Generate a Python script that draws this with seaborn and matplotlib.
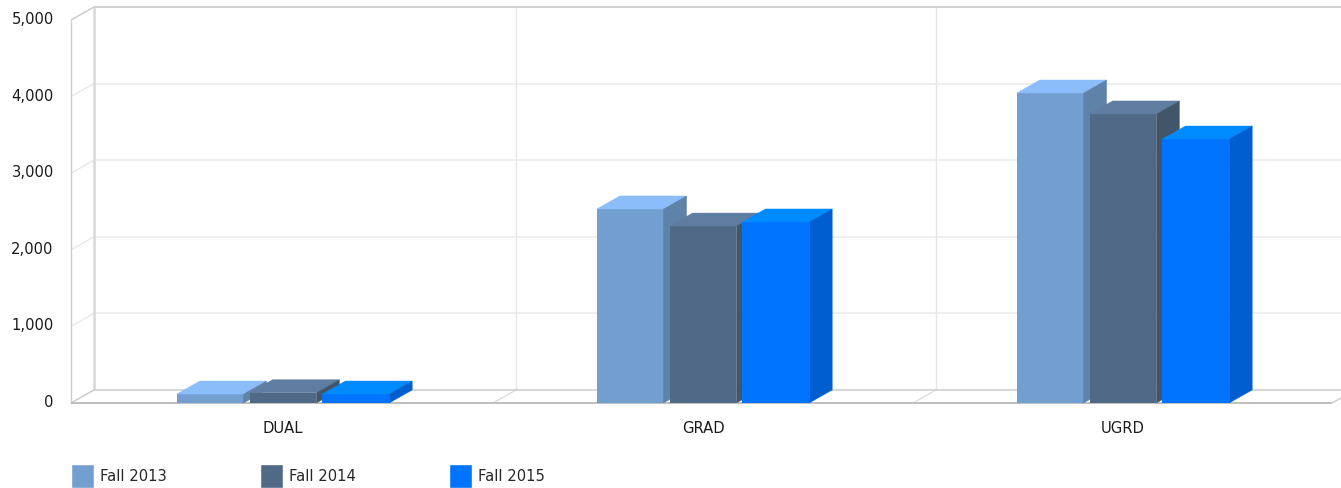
import pandas as pd
import seaborn as sns
import matplotlib.pyplot as plt
from matplotlib.patches import Polygon
from matplotlib.transforms import ScaledTranslation

categories = ['DUAL', 'GRAD', 'UGRD']
terms = ['Fall 2013', 'Fall 2014', 'Fall 2015']
fall_2013 = [117, 2533, 4047]
fall_2014 = [134, 2310, 3773]
fall_2015 = [117, 2363, 3446]
y_ticks = [0, 1000, 2000, 3000, 4000, 5000]

front_colors = ['#739fd0', '#506987', '#0073ff']
top_colors = ['#8abdfa', '#5f7da0', '#008aff']
side_colors = ['#5f82a8', '#415669', '#005ecf']

# size of the fake 3d depth, in data units
DX = 23 / 420
DY = 170

df = pd.DataFrame({
    'category': categories * 3,
    'term': [t for t in terms for _ in categories],
    'value': fall_2013 + fall_2014 + fall_2015,
})

sns.set_style('white')
plt.rcParams['font.family'] = ['DejaVu Sans']

W, H = 1341, 488
fig = plt.figure(figsize=(W / 100, H / 100), dpi=100)
ax = fig.add_axes([71 / W, 1 - 403 / H, 1261 / W, 383 / H])

sns.barplot(
    data=df, x='category', y='value', hue='term',
    order=categories, hue_order=terms,
    palette=dict(zip(terms, front_colors)),
    width=0.52, gap=0.083, saturation=1, ax=ax
)
ax.set_xlim(-0.5048, 2.4976)
ax.set_ylim(0, y_ticks[-1])


def line(xs, ys, color, lw=1.0, z=1):
    ax.plot(xs, ys, color=color, lw=lw, zorder=z, clip_on=False,
            solid_capstyle='butt')


x0, x1 = ax.get_xlim()
top = y_ticks[-1]

# walls and gridlines
for t in y_ticks[1:-1]:
    line([x0, x0 + DX], [t, t + DY], '#e8e8e8')
    line([x0 + DX, x1 + DX], [t + DY, t + DY], '#e9e9e9', 1.1)
for c in range(1, len(categories)):
    v = c - 0.5
    line([v, v + DX], [0, DY], '#dedede')
    line([v + DX, v + DX], [DY, top + DY], '#e6e6e6')

line([x0, x0], [0, top], '#cfcfcf')
line([x0, x0 + DX], [top, top + DY], '#c8c8c8')
line([x0 + DX, x0 + DX], [DY, top + DY], '#d8d8d8', 1.8)
line([x0 + DX, x1 + DX], [top + DY, top + DY], '#c4c4c4', 1.1)
line([x0 + DX, x1 + DX], [DY, DY], '#cccccc', 1.1)
line([x0, x0 + DX], [0, DY], '#c8c8c8')
line([x1, x1 + DX], [0, DY], '#c8c8c8')
line([x0, x1], [0, 0], '#b4b4b4', 1.2, 2)

# top and side faces, worked out from the bars seaborn drew
for i, container in enumerate(ax.containers):
    for bar in container:
        z = 3 + i
        bar.set_zorder(z)
        bar.set_edgecolor('none')
        left = bar.get_x()
        right = left + bar.get_width()
        h = bar.get_height()
        ax.add_patch(Polygon(
            [(left, h), (right, h), (right + DX, h + DY), (left + DX, h + DY)],
            closed=True, facecolor=top_colors[i], edgecolor=top_colors[i],
            lw=0.3, zorder=z
        ))
        ax.add_patch(Polygon(
            [(right, 0), (right + DX, DY), (right + DX, h + DY), (right, h)],
            closed=True, facecolor=side_colors[i], edgecolor=side_colors[i],
            lw=0.3, zorder=z
        ))

sns.despine(ax=ax, left=True, bottom=True)
ax.set_xlabel('')
ax.set_ylabel('')
ax.set_yticks(y_ticks)
ax.set_yticklabels([f'{t:,}' for t in y_ticks])
ax.tick_params(axis='y', length=0, pad=12.5, labelsize=10.6, labelcolor='#1a1a1a')
ax.tick_params(axis='x', length=0, pad=13, labelsize=10.6, labelcolor='#1a1a1a')

shift = ScaledTranslation(0, 2 / 100, fig.dpi_scale_trans)
for label in ax.get_yticklabels():
    label.set_transform(label.get_transform() + shift)

sns.move_legend(
    ax, 'lower left', bbox_to_anchor=(70.5 / W, 0),
    bbox_transform=fig.transFigure, ncol=3, title=None, frameon=False,
    fontsize=10.6, handlelength=1.58, handleheight=2.15,
    handletextpad=0.4, columnspacing=6.33, borderpad=0, borderaxespad=0
)

fig.savefig('out.png', dpi=100)
